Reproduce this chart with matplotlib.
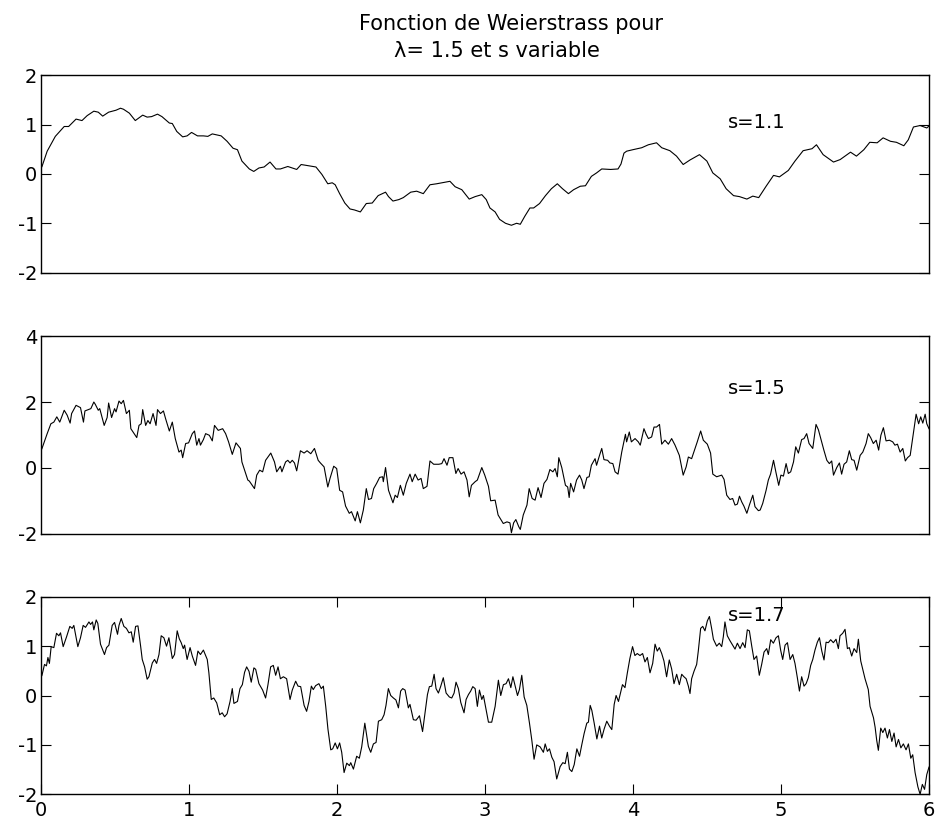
import matplotlib
matplotlib.use("Agg")
import matplotlib.pyplot as plt
import numpy as np

plt.rcParams['font.family'] = ['DejaVu Sans']
plt.rcParams['axes.unicode_minus'] = False

# s = 1.1
s11 = [(0.0, 0.10), (0.01, 0.15), (0.045, 0.46), (0.10, 0.76), (0.16, 0.96), (0.19, 0.96),
       (0.24, 1.11), (0.28, 1.08), (0.315, 1.18), (0.36, 1.27), (0.39, 1.25), (0.42, 1.17),
       (0.46, 1.25), (0.51, 1.29), (0.54, 1.33), (0.56, 1.31), (0.60, 1.23), (0.64, 1.08),
       (0.69, 1.19), (0.72, 1.15), (0.75, 1.16), (0.79, 1.21), (0.82, 1.16), (0.87, 1.03),
       (0.89, 1.02), (0.92, 0.86), (0.96, 0.75), (0.99, 0.77), (1.02, 0.84), (1.06, 0.77),
       (1.10, 0.77), (1.13, 0.76), (1.16, 0.81), (1.22, 0.77), (1.26, 0.66), (1.30, 0.52),
       (1.33, 0.49), (1.36, 0.26), (1.41, 0.10), (1.44, 0.05), (1.475, 0.12), (1.51, 0.14),
       (1.55, 0.24), (1.59, 0.10), (1.62, 0.10), (1.67, 0.15), (1.70, 0.12), (1.73, 0.09),
       (1.76, 0.19), (1.80, 0.17), (1.86, 0.14), (1.90, -0.01), (1.94, -0.20), (1.97, -0.18),
       (1.99, -0.22), (2.02, -0.40), (2.055, -0.59), (2.09, -0.71), (2.12, -0.73), (2.16, -0.77),
       (2.20, -0.60), (2.24, -0.59), (2.28, -0.44), (2.33, -0.37), (2.35, -0.46), (2.38, -0.55),
       (2.42, -0.52), (2.45, -0.48), (2.50, -0.37), (2.54, -0.35), (2.585, -0.40), (2.63, -0.22),
       (2.675, -0.20), (2.73, -0.17), (2.765, -0.15), (2.80, -0.26), (2.845, -0.32), (2.895, -0.51),
       (2.935, -0.46), (2.98, -0.42), (3.01, -0.52), (3.035, -0.69), (3.07, -0.77), (3.10, -0.92),
       (3.14, -1.00), (3.18, -1.04), (3.215, -1.00), (3.24, -1.02), (3.27, -0.86), (3.305, -0.69),
       (3.33, -0.69), (3.37, -0.60), (3.41, -0.44), (3.45, -0.30), (3.49, -0.20), (3.525, -0.30),
       (3.565, -0.40), (3.60, -0.32), (3.645, -0.25), (3.68, -0.24), (3.72, -0.05), (3.755, 0.02),
       (3.79, 0.10), (3.85, 0.09), (3.90, 0.10), (3.92, 0.20), (3.94, 0.42), (3.958, 0.46),
       (4.00, 0.49), (4.06, 0.53), (4.105, 0.59), (4.16, 0.63), (4.195, 0.53), (4.25, 0.47),
       (4.295, 0.36), (4.34, 0.19), (4.385, 0.28), (4.45, 0.39), (4.50, 0.26), (4.54, 0.02),
       (4.59, -0.10), (4.63, -0.30), (4.68, -0.44), (4.72, -0.46), (4.77, -0.51), (4.81, -0.45),
       (4.85, -0.48), (4.90, -0.25), (4.95, -0.03), (4.99, -0.06), (5.05, 0.07), (5.095, 0.26),
       (5.15, 0.47), (5.21, 0.51), (5.24, 0.59), (5.285, 0.39), (5.355, 0.24), (5.40, 0.29),
       (5.47, 0.44), (5.51, 0.36), (5.56, 0.49), (5.60, 0.64), (5.65, 0.63), (5.69, 0.73),
       (5.74, 0.66), (5.78, 0.64), (5.83, 0.57), (5.86, 0.69), (5.895, 0.95), (5.94, 0.98),
       (5.985, 0.93), (6.0, 0.97)]

# s = 1.5
s15 = [(0.0, 0.50), (0.01, 0.59), (0.045, 1.04), (0.07, 1.34), (0.09, 1.39), (0.11, 1.55),
       (0.13, 1.39), (0.16, 1.75), (0.18, 1.60), (0.20, 1.36), (0.21, 1.65), (0.24, 1.90),
       (0.27, 1.83), (0.29, 1.39), (0.30, 1.73), (0.34, 1.80), (0.36, 2.00), (0.37, 1.93),
       (0.39, 1.75), (0.40, 1.80), (0.43, 1.29), (0.45, 1.53), (0.46, 1.97), (0.48, 1.53),
       (0.50, 1.80), (0.51, 1.70), (0.53, 2.03), (0.545, 1.95), (0.56, 2.05), (0.58, 1.65),
       (0.60, 1.75), (0.61, 1.19), (0.65, 0.92), (0.665, 1.29), (0.68, 1.34), (0.69, 1.77),
       (0.71, 1.29), (0.725, 1.44), (0.74, 1.34), (0.76, 1.65), (0.78, 1.29), (0.79, 1.77),
       (0.81, 1.65), (0.83, 1.73), (0.845, 1.49), (0.87, 1.12), (0.89, 1.39), (0.91, 0.89),
       (0.935, 0.48), (0.95, 0.54), (0.96, 0.31), (0.98, 0.74), (1.00, 0.76), (1.025, 1.04),
       (1.04, 1.12), (1.055, 0.69), (1.07, 0.89), (1.08, 0.69), (1.10, 0.86), (1.115, 1.04),
       (1.14, 0.99), (1.16, 0.82), (1.175, 1.29), (1.20, 1.14), (1.23, 1.19), (1.25, 1.04),
       (1.27, 0.79), (1.295, 0.41), (1.32, 0.76), (1.35, 0.59), (1.36, 0.18), (1.40, -0.37),
       (1.41, -0.40), (1.445, -0.63), (1.46, -0.22), (1.48, -0.07), (1.50, -0.12), (1.52, 0.23),
       (1.555, 0.45), (1.58, 0.18), (1.595, -0.12), (1.62, 0.05), (1.63, -0.12), (1.655, 0.18),
       (1.67, 0.23), (1.685, 0.15), (1.70, 0.23), (1.715, 0.15), (1.73, -0.09), (1.755, 0.52),
       (1.78, 0.45), (1.80, 0.52), (1.825, 0.43), (1.85, 0.59), (1.875, 0.23), (1.89, 0.15),
       (1.915, 0.03), (1.94, -0.58), (1.955, -0.32), (1.98, 0.05), (2.00, -0.02), (2.02, -0.68),
       (2.04, -0.73), (2.06, -1.16), (2.085, -1.38), (2.10, -1.33), (2.125, -1.61), (2.14, -1.33),
       (2.16, -1.67), (2.18, -1.28), (2.20, -0.63), (2.215, -0.96), (2.235, -0.93), (2.25, -0.63),
       (2.27, -0.47), (2.29, -0.29), (2.31, -0.27), (2.315, -0.42), (2.33, 0.01), (2.35, -0.68),
       (2.38, -1.06), (2.395, -0.83), (2.41, -0.90), (2.43, -0.53), (2.45, -0.83), (2.47, -0.47),
       (2.495, -0.19), (2.51, -0.42), (2.53, -0.19), (2.55, -0.37), (2.57, -0.32), (2.585, -0.63),
       (2.61, -0.56), (2.63, 0.21), (2.655, 0.11), (2.69, 0.11), (2.71, 0.13), (2.725, 0.28),
       (2.745, 0.08), (2.76, 0.31), (2.785, 0.31), (2.805, -0.17), (2.82, -0.02), (2.84, -0.19),
       (2.86, -0.12), (2.88, -0.37), (2.895, -0.88), (2.91, -0.53), (2.935, -0.42), (2.95, -0.37),
       (2.98, 0.01), (3.00, -0.22), (3.025, -0.56), (3.04, -1.00), (3.07, -0.98), (3.09, -1.43),
       (3.125, -1.69), (3.15, -1.64), (3.17, -1.67), (3.18, -1.97), (3.195, -1.67), (3.21, -1.57),
       (3.23, -1.79), (3.24, -1.87), (3.26, -1.43), (3.285, -1.13), (3.30, -0.63), (3.32, -0.93),
       (3.34, -0.98), (3.36, -0.60), (3.38, -0.90), (3.40, -0.47), (3.42, -0.35), (3.44, -0.05),
       (3.46, -0.12), (3.475, -0.02), (3.49, -0.27), (3.50, 0.31), (3.52, 0.01), (3.545, -0.53),
       (3.56, -0.58), (3.57, -0.90), (3.58, -0.47), (3.60, -0.73), (3.62, -0.37), (3.64, -0.22),
       (3.655, -0.37), (3.67, -0.63), (3.69, -0.29), (3.705, -0.27), (3.72, 0.08), (3.745, 0.28),
       (3.755, 0.08), (3.775, 0.38), (3.79, 0.59), (3.805, 0.25), (3.83, 0.23), (3.845, 0.15),
       (3.865, 0.13), (3.88, -0.12), (3.90, -0.19), (3.925, 0.48), (3.95, 1.02), (3.958, 0.79),
       (3.976, 1.09), (3.99, 0.79), (4.015, 0.89), (4.037, 0.79), (4.05, 0.69), (4.075, 1.19),
       (4.09, 1.02), (4.105, 0.89), (4.127, 0.94), (4.143, 1.24), (4.16, 1.24), (4.18, 1.32),
       (4.195, 0.72), (4.217, 0.84), (4.24, 0.72), (4.262, 0.89), (4.285, 0.69), (4.314, 0.38),
       (4.34, -0.22), (4.36, 0.03), (4.375, 0.33), (4.397, 0.28), (4.42, 0.59), (4.435, 0.79),
       (4.458, 1.12), (4.476, 0.84), (4.503, 0.72), (4.525, 0.45), (4.54, -0.19), (4.566, -0.27),
       (4.60, -0.22), (4.616, -0.35), (4.634, -0.83), (4.656, -0.96), (4.674, -0.93), (4.69, -1.13),
       (4.706, -1.10), (4.72, -0.86), (4.735, -1.03), (4.75, -1.16), (4.77, -1.38), (4.787, -1.13),
       (4.81, -0.83), (4.825, -1.18), (4.848, -1.30), (4.86, -1.28), (4.877, -1.08), (4.90, -0.68),
       (4.915, -0.37), (4.93, -0.19), (4.95, 0.23), (4.967, -0.15), (4.985, -0.53), (5.00, -0.22),
       (5.017, -0.25), (5.035, 0.13), (5.05, -0.17), (5.066, -0.12), (5.085, 0.18), (5.10, 0.64),
       (5.118, 0.45), (5.14, 0.86), (5.156, 0.89), (5.174, 1.04), (5.19, 0.74), (5.215, 0.59),
       (5.237, 1.32), (5.253, 1.16), (5.275, 0.79), (5.29, 0.54), (5.31, 0.23), (5.327, 0.13),
       (5.343, 0.21), (5.355, -0.22), (5.377, 0.01), (5.395, 0.15), (5.41, -0.19), (5.426, 0.11),
       (5.444, 0.18), (5.462, 0.52), (5.478, 0.25), (5.494, 0.23), (5.512, -0.07), (5.535, 0.38),
       (5.553, 0.48), (5.575, 0.74), (5.59, 1.04), (5.606, 0.92), (5.624, 0.74), (5.643, 0.84),
       (5.66, 0.54), (5.675, 0.99), (5.692, 1.22), (5.71, 0.82), (5.733, 0.84), (5.755, 0.79),
       (5.77, 0.69), (5.787, 0.72), (5.805, 0.48), (5.823, 0.59), (5.84, 0.21), (5.855, 0.31),
       (5.873, 0.38), (5.89, 0.92), (5.913, 1.63), (5.93, 1.34), (5.944, 1.55), (5.958, 1.36),
       (5.974, 1.63), (5.985, 1.34), (6.0, 1.19)]

# s = 1.7
s17 = [(0.0, 0.35), (0.01, 0.41), (0.027, 0.63), (0.04, 0.60), (0.05, 0.77), (0.06, 0.65),
       (0.072, 0.99), (0.09, 0.97), (0.108, 1.26), (0.124, 1.21), (0.135, 1.27), (0.153, 0.99),
       (0.176, 1.19), (0.198, 1.40), (0.214, 1.36), (0.225, 1.42), (0.252, 0.99), (0.27, 1.17),
       (0.288, 1.42), (0.304, 1.38), (0.327, 1.49), (0.338, 1.44), (0.351, 1.49), (0.36, 1.33),
       (0.376, 1.53), (0.387, 1.46), (0.405, 1.04), (0.432, 0.83), (0.446, 0.97), (0.462, 1.02),
       (0.484, 1.42), (0.50, 1.48), (0.52, 1.24), (0.53, 1.42), (0.545, 1.56), (0.563, 1.40),
       (0.58, 1.36), (0.597, 1.27), (0.613, 1.29), (0.626, 1.08), (0.642, 1.40), (0.658, 1.41),
       (0.676, 1.00), (0.687, 0.73), (0.703, 0.58), (0.72, 0.33), (0.732, 0.38), (0.755, 0.66),
       (0.77, 0.73), (0.784, 0.65), (0.80, 0.83), (0.815, 1.21), (0.833, 1.17), (0.851, 1.00),
       (0.867, 1.17), (0.89, 0.75), (0.905, 0.83), (0.923, 1.31), (0.937, 1.15), (0.95, 1.07),
       (0.964, 0.95), (0.973, 1.02), (0.99, 0.73), (1.01, 0.97), (1.025, 0.80), (1.047, 0.61),
       (1.063, 0.90), (1.08, 0.83), (1.10, 0.92), (1.126, 0.73), (1.137, 0.46), (1.153, -0.08),
       (1.17, -0.05), (1.19, -0.15), (1.21, -0.39), (1.227, -0.35), (1.243, -0.43), (1.26, -0.37),
       (1.28, -0.12), (1.295, 0.14), (1.306, -0.16), (1.33, -0.12), (1.347, 0.14), (1.363, 0.22),
       (1.378, 0.47), (1.392, 0.58), (1.408, 0.49), (1.423, 0.27), (1.441, 0.56), (1.453, 0.53),
       (1.475, 0.24), (1.50, 0.11), (1.52, -0.05), (1.536, 0.22), (1.554, 0.58), (1.572, 0.61),
       (1.588, 0.41), (1.604, 0.58), (1.62, 0.34), (1.64, 0.38), (1.662, 0.34), (1.685, -0.08),
       (1.70, 0.11), (1.723, 0.29), (1.739, 0.19), (1.757, 0.18), (1.78, -0.20), (1.797, -0.32),
       (1.813, -0.12), (1.829, 0.19), (1.842, 0.12), (1.858, 0.20), (1.88, 0.24), (1.896, 0.14),
       (1.91, 0.19), (1.926, -0.22), (1.941, -0.68), (1.96, -1.10), (1.973, -1.08), (1.99, -0.96),
       (2.005, -1.08), (2.02, -0.96), (2.034, -1.15), (2.05, -1.56), (2.068, -1.37), (2.086, -1.42),
       (2.095, -1.36), (2.113, -1.49), (2.135, -1.23), (2.153, -1.27), (2.169, -1.04), (2.19, -0.56),
       (2.214, -1.03), (2.23, -1.15), (2.248, -0.98), (2.266, -0.95), (2.282, -0.52), (2.304, -0.49),
       (2.32, -0.39), (2.333, -0.20), (2.349, 0.14), (2.365, 0.00), (2.383, -0.05), (2.40, -0.09),
       (2.417, -0.25), (2.432, 0.09), (2.446, 0.14), (2.462, 0.11), (2.484, -0.25), (2.495, -0.18),
       (2.518, -0.49), (2.536, -0.50), (2.559, -0.41), (2.58, -0.73), (2.597, -0.35), (2.613, 0.02),
       (2.626, 0.18), (2.642, 0.19), (2.658, 0.43), (2.671, 0.14), (2.687, 0.05), (2.703, 0.19),
       (2.72, 0.36), (2.739, 0.05), (2.761, -0.03), (2.777, -0.05), (2.793, 0.05), (2.806, 0.27),
       (2.822, 0.14), (2.838, -0.14), (2.86, -0.35), (2.874, -0.08), (2.89, 0.02), (2.905, 0.09),
       (2.919, 0.18), (2.935, 0.14), (2.95, -0.22), (2.964, 0.11), (2.98, -0.08), (2.991, 0.00),
       (3.009, -0.28), (3.025, -0.54), (3.047, -0.54), (3.07, -0.22), (3.092, 0.31), (3.108, 0.00),
       (3.126, 0.22), (3.144, 0.24), (3.16, 0.34), (3.176, 0.16), (3.19, 0.38), (3.205, 0.20),
       (3.221, 0.00), (3.234, 0.12), (3.25, 0.41), (3.266, -0.03), (3.284, -0.20), (3.302, -0.56),
       (3.318, -0.91), (3.333, -1.29), (3.351, -1.00), (3.374, -1.04), (3.396, -1.15), (3.408, -0.98),
       (3.423, -1.13), (3.437, -1.08), (3.453, -1.25), (3.468, -1.34), (3.486, -1.69), (3.509, -1.44),
       (3.527, -1.36), (3.543, -1.38), (3.558, -1.15), (3.572, -1.49), (3.588, -1.54), (3.604, -1.40),
       (3.622, -1.08), (3.64, -1.23), (3.655, -1.00), (3.671, -0.77), (3.689, -0.56), (3.70, -0.54),
       (3.712, -0.20), (3.723, -0.30), (3.739, -0.56), (3.757, -0.88), (3.775, -0.62), (3.79, -0.86),
       (3.806, -0.68), (3.824, -0.52), (3.842, -0.62), (3.858, -0.69), (3.874, -0.18), (3.887, 0.00),
       (3.903, -0.12), (3.93, 0.22), (3.947, 0.16), (3.963, 0.46), (3.98, 0.75), (3.998, 0.99),
       (4.014, 0.81), (4.03, 0.85), (4.048, 0.81), (4.066, 0.85), (4.082, 0.68), (4.098, 0.77),
       (4.116, 0.46), (4.134, 0.65), (4.15, 1.04), (4.165, 0.90), (4.179, 0.97), (4.195, 0.85),
       (4.21, 0.70), (4.228, 0.38), (4.246, 0.72), (4.262, 0.54), (4.278, 0.24), (4.296, 0.43),
       (4.314, 0.22), (4.33, 0.43), (4.345, 0.38), (4.36, 0.34), (4.375, 0.19), (4.386, 0.04),
       (4.397, 0.34), (4.413, 0.49), (4.431, 0.63), (4.442, 0.90), (4.458, 1.36), (4.472, 1.40),
       (4.487, 1.31), (4.503, 1.51), (4.517, 1.60), (4.532, 1.36), (4.544, 1.14), (4.566, 1.00),
       (4.584, 1.06), (4.60, 0.99), (4.611, 1.19), (4.622, 1.49), (4.638, 1.21), (4.656, 1.11),
       (4.674, 1.02), (4.69, 0.94), (4.706, 1.06), (4.724, 0.95), (4.742, 1.07), (4.758, 0.97),
       (4.773, 1.33), (4.787, 1.31), (4.803, 1.00), (4.818, 0.73), (4.836, 0.80), (4.854, 0.41),
       (4.87, 0.63), (4.886, 0.88), (4.904, 0.95), (4.915, 0.83), (4.931, 1.13), (4.949, 1.06),
       (4.967, 1.17), (4.983, 1.21), (4.998, 0.92), (5.012, 0.73), (5.028, 1.02), (5.044, 1.07),
       (5.062, 0.73), (5.08, 0.83), (5.095, 0.65), (5.111, 0.36), (5.125, 0.09), (5.14, 0.38),
       (5.156, 0.19), (5.17, 0.24), (5.185, 0.36), (5.201, 0.61), (5.215, 0.73), (5.23, 0.92),
       (5.246, 1.08), (5.26, 1.17), (5.276, 0.90), (5.291, 0.72), (5.305, 1.08), (5.32, 1.07),
       (5.336, 1.13), (5.354, 1.07), (5.372, 1.14), (5.388, 0.95), (5.399, 1.21), (5.417, 1.26),
       (5.433, 1.34), (5.449, 0.95), (5.462, 0.97), (5.478, 0.80), (5.494, 0.95), (5.512, 0.87),
       (5.523, 1.14), (5.539, 0.70), (5.553, 0.53), (5.568, 0.34), (5.58, 0.22), (5.59, 0.12),
       (5.602, -0.22), (5.625, -0.45), (5.636, -0.64), (5.647, -0.91), (5.658, -1.11), (5.674, -0.66),
       (5.688, -0.75), (5.703, -0.66), (5.719, -0.86), (5.733, -0.69), (5.749, -0.93), (5.764, -0.76),
       (5.778, -1.04), (5.794, -0.89), (5.81, -1.06), (5.827, -0.98), (5.845, -1.10), (5.861, -0.98),
       (5.877, -1.27), (5.89, -1.20), (5.906, -1.56), (5.925, -1.85), (5.94, -2.0), (5.955, -1.80),
       (5.97, -1.90), (5.985, -1.60), (6.0, -1.45)]

series = [s11, s15, s17]
labels = ['s=1.1', 's=1.5', 's=1.7']
label_y = [1.05, 2.4, 1.62]
ylims = [(-2, 2), (-2, 4), (-2, 2)]
yticks = [[-2, -1, 0, 1, 2], [-2, 0, 2, 4], [-2, -1, 0, 1, 2]]
xticks = [0, 1, 2, 3, 4, 5, 6]

fig = plt.figure(figsize=(9.4, 8.23), dpi=100)
bottoms = [0.6687, 0.3515, 0.0349]
for i in range(3):
    ax = fig.add_axes([0.0431, bottoms[i], 0.9452, 0.240])
    pts = np.array(series[i])
    ax.plot(pts[:, 0], pts[:, 1], color='black', lw=0.8)
    ax.set_xlim(0, 6)
    ax.set_ylim(*ylims[i])
    ax.set_yticks(yticks[i])
    ax.set_yticklabels([str(v) for v in yticks[i]])
    if i < 2:
        ax.set_xticks([])
    else:
        ax.set_xticks(xticks)
        ax.set_xticklabels([str(v) for v in xticks])
    ax.tick_params(direction='in', length=7, width=0.8, top=True, right=True,
                   labelsize=14, colors='black')
    ax.tick_params(axis='y', pad=2.5)
    ax.tick_params(axis='x', pad=4.5)
    for sp in ax.spines.values():
        sp.set_linewidth(1.0)
    ax.text(4.645, label_y[i], labels[i], fontsize=14, va='center', ha='left')

# two-line title, second line shifted like the original char-matrix title
fig.text(0.5434, 0.9635, 'Fonction de Weierstrass pour', fontsize=15,
         ha='center', va='baseline')
fig.text(0.529, 0.9313, 'λ= 1.5 et s variable', fontsize=15,
         ha='center', va='baseline')

fig.savefig('out.png', dpi=100)
